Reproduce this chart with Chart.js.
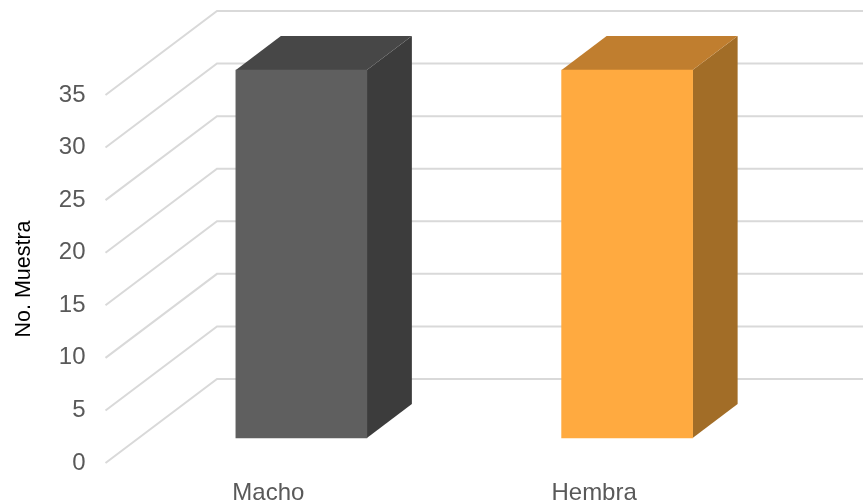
<!DOCTYPE html>
<html>
<head>
<meta charset="utf-8">
<style>
  html, body { margin: 0; padding: 0; background: #fff; }
  canvas { display: block; }
</style>
<script src="https://cdn.jsdelivr.net/npm/chart.js@4/dist/chart.umd.min.js"></script>
</head>
<body>
<canvas id="grafico" width="863" height="502"></canvas>
<script>
const categorias = ['Macho', 'Hembra']
const muestras = [35, 35]
const yTicks = [0, 5, 10, 15, 20, 25, 30, 35]

const frente = ['#5f5f5f', '#ffaa40']
const lado = ['#3c3c3c', '#a26d27']
const techo = ['#474747', '#c07e2f']

// desplazamiento del fondo y de las barras respecto al plano frontal
const FONDO = { dx: 111.5, dy: -84 }
const BARRA = { dx: 33, dy: -25 }
const PROF = { dx: 45, dy: -34 }

function poly(ctx, pts, color) {
  ctx.fillStyle = color
  ctx.beginPath()
  pts.forEach(([x, y], i) => i ? ctx.lineTo(x, y) : ctx.moveTo(x, y))
  ctx.closePath()
  ctx.fill()
}

const tresD = {
  id: 'tresD',
  beforeDatasetsDraw(chart) {
    const { ctx, scales: { y }, chartArea } = chart
    ctx.save()
    ctx.strokeStyle = '#d9d9d9'
    ctx.lineWidth = 2
    yTicks.forEach(v => {
      const py = y.getPixelForValue(v)
      ctx.beginPath()
      ctx.moveTo(chartArea.left, py)
      ctx.lineTo(chartArea.left + FONDO.dx, py + FONDO.dy)
      ctx.lineTo(chartArea.right + FONDO.dx, py + FONDO.dy)
      ctx.stroke()
    })
    ctx.restore()

    // caras lateral y superior
    ctx.save()
    ctx.translate(BARRA.dx, BARRA.dy)
    chart.getDatasetMeta(0).data.forEach((bar, i) => {
      const { x, y: top, base, width } = bar.getProps(['x', 'y', 'base', 'width'])
      const l = x - width / 2
      const r = x + width / 2
      poly(ctx, [[r, top], [r + PROF.dx, top + PROF.dy], [r + PROF.dx, base + PROF.dy], [r, base]], lado[i])
      poly(ctx, [[l, top], [l + PROF.dx, top + PROF.dy], [r + PROF.dx, top + PROF.dy], [r, top]], techo[i])
    })
    ctx.restore()

    ctx.save()
    ctx.translate(BARRA.dx, BARRA.dy)
  },
  afterDatasetsDraw(chart) {
    chart.ctx.restore()
  }
}

new Chart(document.getElementById('grafico').getContext('2d'), {
  type: 'bar',
  plugins: [tresD],
  data: {
    labels: categorias,
    datasets: [{
      label: 'No. Muestra',
      data: muestras,
      backgroundColor: frente,
      borderWidth: 0,
      barThickness: 131,
      clip: false
    }]
  },
  options: {
    responsive: false,
    animation: false,
    layout: { padding: { top: 95, right: 106 } },
    plugins: { legend: { display: false }, tooltip: { enabled: false } },
    scales: {
      x: {
        grid: { display: false },
        border: { display: false },
        ticks: {
          color: '#595959',
          padding: 8,
          maxRotation: 0,
          font: { family: '"Liberation Sans"', size: 24 }
        },
        afterFit(scale) { scale.height = 39 }
      },
      y: {
        min: 0,
        max: 35,
        grid: { display: false },
        border: { display: false },
        afterBuildTicks(scale) { scale.ticks = yTicks.map(value => ({ value })) },
        title: {
          display: true,
          text: 'No. Muestra',
          color: '#000000',
          padding: { top: 11, bottom: 0 },
          font: { family: '"Liberation Sans"', size: 21.5 }
        },
        ticks: {
          color: '#595959',
          padding: 12,
          font: { family: '"Liberation Sans"', size: 24 }
        },
        afterFit(scale) { scale.width = 105.5 }
      }
    }
  }
})
</script>
</body>
</html>
